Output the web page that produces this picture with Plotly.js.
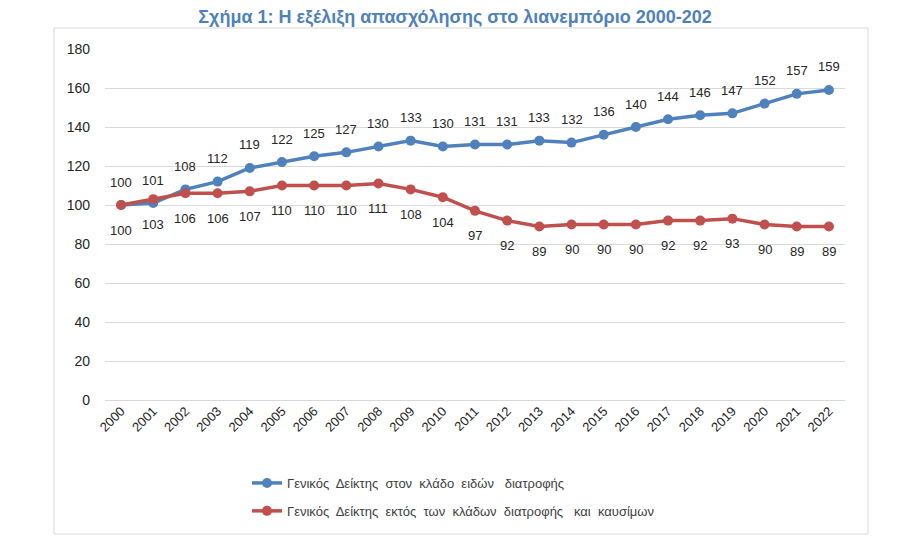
<!DOCTYPE html>
<html>
<head>
<meta charset="utf-8">
<script src="https://cdn.plot.ly/plotly-3.0.1.min.js"></script>
<style>html,body{margin:0;padding:0;background:#fff;}#chart{width:910px;height:553px;}</style>
</head>
<body>
<div id="chart"></div>
<script>
const years = ['2000','2001','2002','2003','2004','2005','2006','2007','2008','2009','2010','2011','2012','2013','2014','2015','2016','2017','2018','2019','2020','2021','2022'];
const foodIndex = [100,101,108,112,119,122,125,127,130,133,130,131,131,133,132,136,140,144,146,147,152,157,159];
const nonFoodIndex = [100,103,106,106,107,110,110,110,111,108,104,97,92,89,90,90,90,92,92,93,90,89,89];
const seriesNames = ['Γενικός  Δείκτης  στον  κλάδο  ειδών   διατροφής', 'Γενικός  Δείκτης  εκτός  των  κλάδων  διατροφής   και  καυσίμων'];
const chartTitle = 'Σχήμα 1: Η εξέλιξη απασχόλησης στο λιανεμπόριο 2000-202';

const blue = '#4F81BD', red = '#C0504D';
const font = 'Liberation Sans, Arial, sans-serif';

const traces = [
  {x: years, y: foodIndex, name: seriesNames[0], mode: 'lines+markers', legendgroup: 'a',
   line: {color: blue, width: 3.5}, marker: {color: blue, size: 10}},
  {x: years, y: nonFoodIndex, name: seriesNames[1], mode: 'lines+markers', legendgroup: 'b',
   line: {color: red, width: 3.5}, marker: {color: red, size: 10}}
];

// data labels: category axis positions given by index
const annotations = [];
years.forEach((yr, i) => {
  annotations.push({xref: 'x', yref: 'y', x: i, y: foodIndex[i], text: String(foodIndex[i]), showarrow: false, yshift: 23,
    font: {family: font, size: 13, color: '#262626'}});
  annotations.push({xref: 'x', yref: 'y', x: i, y: nonFoodIndex[i], text: String(nonFoodIndex[i]), showarrow: false, yshift: -25,
    font: {family: font, size: 13, color: '#262626'}});
});

const L = 105, R = 845, T = 49, B = 400;
const W = R - L, H = B - T;

const layout = {
  width: 910, height: 553,
  margin: {l: L, r: 910 - R, t: T, b: 553 - B},
  paper_bgcolor: '#fff', plot_bgcolor: '#fff',
  font: {family: font, color: '#262626'},
  title: {text: '<b>' + chartTitle + '</b>', font: {family: font, size: 18, color: blue},
          x: 0.5, xanchor: 'center', yref: 'container', y: 1 - 17/553, yanchor: 'middle'},
  xaxis: {type: 'category', range: [-0.5, 22.5], tickangle: -45, showgrid: false, zeroline: false,
          showline: false, ticks: '', tickfont: {family: font, size: 13, color: '#262626'}},
  yaxis: {range: [0, 180], dtick: 20, showgrid: true, gridcolor: '#D9D9D9', gridwidth: 1,
          zeroline: true, zerolinecolor: '#D9D9D9', zerolinewidth: 1, showline: false, ticks: '',
          ticklen: 0, ticklabelstandoff: 14, tickfont: {family: font, size: 14, color: '#262626'}},
  showlegend: true,
  legend: {orientation: 'v', x: (247 - L) / W, xanchor: 'left', y: (B - 468) / H, yanchor: 'top',
           font: {family: font, size: 13, color: '#404040'}, tracegroupgap: 8, bgcolor: 'rgba(0,0,0,0)'},
  annotations: annotations,
  shapes: [{type: 'rect', xref: 'paper', yref: 'paper',
            x0: (54 - L) / W, x1: (868 - L) / W, y0: (B - 534) / H, y1: (B - 28) / H,
            line: {color: '#D9D9D9', width: 1}, fillcolor: 'rgba(0,0,0,0)', layer: 'below'}]
};

Plotly.newPlot('chart', traces, layout, {displayModeBar: false, staticPlot: true});
</script>
</body>
</html>
